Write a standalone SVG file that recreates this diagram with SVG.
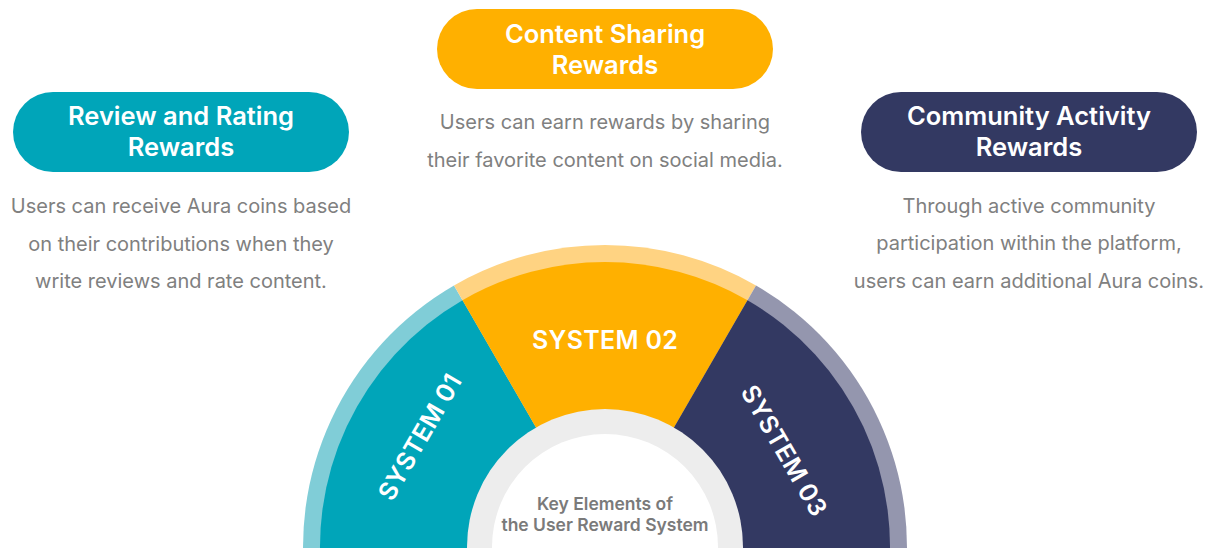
<svg xmlns="http://www.w3.org/2000/svg" width="1216" height="548" viewBox="0 0 1216 548">
<defs>
<style>
.pill-t{font-family:Inter,"Noto Sans","Liberation Sans",sans-serif;font-weight:600;font-size:25.5px;fill:#ffffff;text-anchor:middle}
.desc{font-family:Inter,"Noto Sans","Liberation Sans",sans-serif;font-weight:400;font-size:20px;fill:#808080;text-anchor:middle}
.sys{font-family:Inter,"Noto Sans","Liberation Sans",sans-serif;font-weight:600;font-size:25px;letter-spacing:0.3px;fill:#ffffff;text-anchor:middle}
.key{font-family:Inter,"Noto Sans","Liberation Sans",sans-serif;font-weight:600;font-size:17.5px;fill:#7a7a7a;text-anchor:middle}
</style>
</defs>
<rect width="1216" height="548" fill="#ffffff"/>

<g id="wheel">
  <path d="M605 547 L307.6 599.4 A302 302 0 0 1 454 285.5 Z" fill="#80CDD7"/>
  <path d="M605 547 L454 285.5 A302 302 0 0 1 756 285.5 Z" fill="#FFD382"/>
  <path d="M605 547 L756 285.5 A302 302 0 0 1 902.4 599.4 Z" fill="#9496AE"/>
  <path d="M605 547 L324.3 596.5 A285 285 0 0 1 462.5 300.2 Z" fill="#00A5B9"/>
  <path d="M605 547 L462.5 300.2 A285 285 0 0 1 747.5 300.2 Z" fill="#FFB000"/>
  <path d="M605 547 L747.5 300.2 A285 285 0 0 1 885.7 596.5 Z" fill="#333962"/>
  <circle cx="605" cy="547" r="138" fill="#EDEDED"/>
  <circle cx="605" cy="547" r="113" fill="#ffffff"/>
</g>

<g id="system01">
  <text class="sys" transform="translate(427.5 441.4) rotate(-60)" x="0" y="0">SYSTEM 01</text>
</g>
<g id="system02">
  <text class="sys" x="605" y="349">SYSTEM 02</text>
</g>
<g id="system03">
  <text class="sys" transform="translate(776.5 455) rotate(60)" x="0" y="0">SYSTEM 03</text>
</g>

<g id="center">
  <text class="key" x="605" y="510">Key Elements of</text>
  <text class="key" x="605" y="531">the User Reward System</text>
</g>

<g id="review">
  <rect x="13" y="92" width="336" height="80" rx="40" fill="#00A5B9"/>
  <text class="pill-t" x="181" y="125">Review and Rating</text>
  <text class="pill-t" x="181" y="156">Rewards</text>
  <text class="desc" x="181" y="213">Users can receive Aura coins based</text>
  <text class="desc" x="181" y="251">on their contributions when they</text>
  <text class="desc" x="181" y="288">write reviews and rate content.</text>
</g>

<g id="content">
  <rect x="437" y="9" width="336" height="80" rx="40" fill="#FFB000"/>
  <text class="pill-t" x="605" y="43">Content Sharing</text>
  <text class="pill-t" x="605" y="74">Rewards</text>
  <text class="desc" x="605" y="129">Users can earn rewards by sharing</text>
  <text class="desc" x="605" y="167">their favorite content on social media.</text>
</g>

<g id="community">
  <rect x="861" y="92" width="336" height="80" rx="40" fill="#333962"/>
  <text class="pill-t" x="1029" y="125">Community Activity</text>
  <text class="pill-t" x="1029" y="156">Rewards</text>
  <text class="desc" x="1029" y="213">Through active community</text>
  <text class="desc" x="1029" y="250">participation within the platform,</text>
  <text class="desc" x="1029" y="288">users can earn additional Aura coins.</text>
</g>

<g id="connectors"></g>
</svg>
